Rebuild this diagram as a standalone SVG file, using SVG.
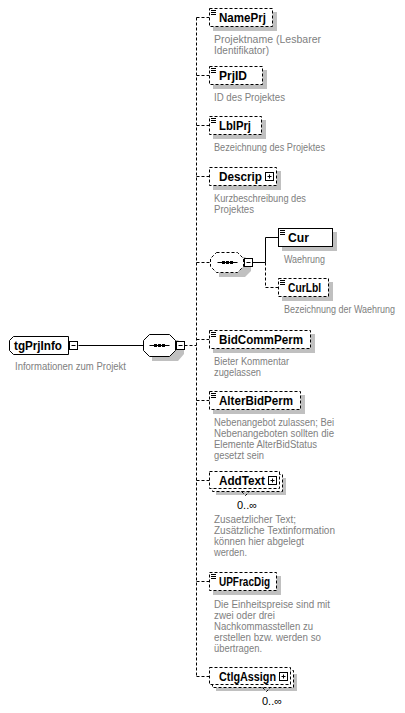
<svg xmlns="http://www.w3.org/2000/svg" width="405" height="713" viewBox="0 0 405 713">
<defs>
<style>
.bg{fill:#ffffff}
.box{fill:#ffffff;stroke:#000000;stroke-width:1}
.opt{fill:#ffffff;stroke:#000000;stroke-width:1;stroke-dasharray:3,2}
.sh{fill:#c0c0c0}
.ln{stroke:#000000;stroke-width:1;fill:none}
.dl{stroke:#000000;stroke-width:1;fill:none;stroke-dasharray:3,2}
.nm{font-family:"Liberation Sans",Arial,sans-serif;font-size:12px;font-weight:bold;fill:#000000}
.ds{font-family:"Liberation Sans",Arial,sans-serif;font-size:10px;fill:#808080}
.oc{font-family:"Liberation Sans",Arial,sans-serif;font-size:11px;fill:#000000}
</style>
</defs>
<rect class="bg" x="0" y="0" width="405" height="713"/>
<g id="connectors">
<line class="ln" x1="78.5" y1="345.5" x2="143.5" y2="345.5"/>
<line class="dl" x1="184.5" y1="345.5" x2="196.5" y2="345.5"/>
<line class="dl" x1="196.5" y1="17.5" x2="196.5" y2="676.5"/>
<line class="dl" x1="196.5" y1="17.5" x2="209.5" y2="17.5"/>
<line class="dl" x1="196.5" y1="75.5" x2="209.5" y2="75.5"/>
<line class="dl" x1="196.5" y1="125.5" x2="209.5" y2="125.5"/>
<line class="dl" x1="196.5" y1="176.5" x2="209.5" y2="176.5"/>
<line class="dl" x1="196.5" y1="262.5" x2="210.5" y2="262.5"/>
<line class="dl" x1="196.5" y1="339.5" x2="209.5" y2="339.5"/>
<line class="dl" x1="196.5" y1="400.5" x2="209.5" y2="400.5"/>
<line class="dl" x1="196.5" y1="480.5" x2="209.5" y2="480.5"/>
<line class="dl" x1="196.5" y1="581.5" x2="209.5" y2="581.5"/>
<line class="dl" x1="196.5" y1="676.5" x2="209.5" y2="676.5"/>
<line class="ln" x1="252.5" y1="262.5" x2="265.5" y2="262.5"/>
<path class="ln" d="M265.5,262.5 V237.5 H278.5"/>
<path class="dl" d="M265.5,262.5 V287.5 H278.5"/>
</g>
<g id="tgPrjInfo">
<path class="box" d="M13.5,336.5 H68.5 V354.5 H13.5 L9.5,350.5 V340.5 Z"/>
<text class="nm" x="14" y="350" textLength="48" lengthAdjust="spacingAndGlyphs">tgPrjInfo</text>
<rect class="box" x="69.5" y="341.5" width="8" height="8"/>
<line class="ln" x1="71.5" y1="345.5" x2="75.5" y2="345.5"/>
<text class="ds" x="15" y="370" textLength="111" lengthAdjust="spacingAndGlyphs">Informationen zum Projekt</text>
</g>
<g id="seq1">
<path class="sh" d="M152,340 H178 L184,346 V354 L178,361 H152 Z"/>
<path class="box" d="M149.5,334.5 H169.5 L175.5,340.5 V350.5 L169.5,356.5 H149.5 L143.5,350.5 V340.5 Z"/>
<line class="ln" x1="149.5" y1="345.5" x2="169.5" y2="345.5"/>
<rect x="154" y="344" width="3" height="3" fill="#000"/>
<rect x="158" y="344" width="3" height="3" fill="#000"/>
<rect x="162" y="344" width="3" height="3" fill="#000"/>
<rect class="box" x="176.5" y="341.5" width="8" height="8"/>
<line class="ln" x1="178.5" y1="345.5" x2="182.5" y2="345.5"/>
</g>
<g id="NamePrj">
<rect class="sh" x="213" y="12" width="64" height="19"/>
<rect class="opt" x="209.5" y="8.5" width="63" height="18"/>
<path class="ln" d="M211,10.5 h5 M211,12.5 h5 M211,14.5 h5"/>
<text class="nm" x="219" y="22" textLength="47" lengthAdjust="spacingAndGlyphs">NamePrj</text>
<text class="ds" x="214" y="43" textLength="107" lengthAdjust="spacingAndGlyphs">Projektname (Lesbarer</text>
<text class="ds" x="214" y="54" textLength="55" lengthAdjust="spacingAndGlyphs">Identifikator)</text>
</g>
<g id="PrjID">
<rect class="sh" x="213" y="70" width="54" height="19"/>
<rect class="opt" x="209.5" y="66.5" width="53" height="18"/>
<path class="ln" d="M211,68.5 h5 M211,70.5 h5 M211,72.5 h5"/>
<text class="nm" x="219" y="80" textLength="28" lengthAdjust="spacingAndGlyphs">PrjID</text>
<text class="ds" x="214" y="101" textLength="71" lengthAdjust="spacingAndGlyphs">ID des Projektes</text>
</g>
<g id="LblPrj">
<rect class="sh" x="213" y="120" width="53" height="19"/>
<rect class="opt" x="209.5" y="116.5" width="52" height="18"/>
<path class="ln" d="M211,118.5 h5 M211,120.5 h5 M211,122.5 h5"/>
<text class="nm" x="219" y="130" textLength="32" lengthAdjust="spacingAndGlyphs">LblPrj</text>
<text class="ds" x="214" y="151" textLength="111" lengthAdjust="spacingAndGlyphs">Bezeichnung des Projektes</text>
</g>
<g id="Descrip">
<rect class="sh" x="213" y="171" width="68" height="19"/>
<rect class="opt" x="209.5" y="167.5" width="67" height="18"/>
<text class="nm" x="219" y="181" textLength="43" lengthAdjust="spacingAndGlyphs">Descrip</text>
<rect class="box" x="265.5" y="172.5" width="8" height="8"/>
<path class="ln" d="M267.5,176.5 h4 M269.5,174.5 v4"/>
<text class="ds" x="214" y="202" textLength="92" lengthAdjust="spacingAndGlyphs">Kurzbeschreibung des</text>
<text class="ds" x="214" y="213" textLength="40" lengthAdjust="spacingAndGlyphs">Projektes</text>
</g>
<g id="seq2">
<path class="sh" d="M219,257 H245 L251,263 V271 L245,277 H219 Z"/>
<path class="opt" d="M216.5,252.5 H237.5 L243.5,258.5 V266.5 L237.5,272.5 H216.5 L210.5,266.5 V258.5 Z"/>
<line class="ln" x1="217.5" y1="262.5" x2="237.5" y2="262.5"/>
<rect x="222" y="261" width="3" height="3" fill="#000"/>
<rect x="226" y="261" width="3" height="3" fill="#000"/>
<rect x="230" y="261" width="3" height="3" fill="#000"/>
<rect class="box" x="244.5" y="258.5" width="8" height="8"/>
<line class="ln" x1="246.5" y1="262.5" x2="250.5" y2="262.5"/>
</g>
<g id="Cur">
<rect class="sh" x="282" y="232" width="55" height="19"/>
<rect class="box" x="278.5" y="228.5" width="54" height="18"/>
<path class="ln" d="M280,230.5 h5 M280,232.5 h5 M280,234.5 h5"/>
<text class="nm" x="288" y="242" textLength="21" lengthAdjust="spacingAndGlyphs">Cur</text>
<text class="ds" x="284" y="263" textLength="41" lengthAdjust="spacingAndGlyphs">Waehrung</text>
</g>
<g id="CurLbl">
<rect class="sh" x="282" y="282" width="51" height="19"/>
<rect class="opt" x="278.5" y="278.5" width="50" height="18"/>
<path class="ln" d="M280,280.5 h5 M280,282.5 h5 M280,284.5 h5"/>
<text class="nm" x="288" y="292" textLength="33" lengthAdjust="spacingAndGlyphs">CurLbl</text>
<text class="ds" x="284" y="313" textLength="111" lengthAdjust="spacingAndGlyphs">Bezeichnung der Waehrung</text>
</g>
<g id="BidCommPerm">
<rect class="sh" x="213" y="334" width="102" height="19"/>
<rect class="opt" x="209.5" y="330.5" width="101" height="18"/>
<path class="ln" d="M211,332.5 h5 M211,334.5 h5 M211,336.5 h5"/>
<text class="nm" x="219" y="344" textLength="84" lengthAdjust="spacingAndGlyphs">BidCommPerm</text>
<text class="ds" x="214" y="365" textLength="75" lengthAdjust="spacingAndGlyphs">Bieter Kommentar</text>
<text class="ds" x="214" y="376" textLength="47" lengthAdjust="spacingAndGlyphs">zugelassen</text>
</g>
<g id="AlterBidPerm">
<rect class="sh" x="213" y="395" width="92" height="19"/>
<rect class="opt" x="209.5" y="391.5" width="91" height="18"/>
<path class="ln" d="M211,393.5 h5 M211,395.5 h5 M211,397.5 h5"/>
<text class="nm" x="219" y="405" textLength="74" lengthAdjust="spacingAndGlyphs">AlterBidPerm</text>
<text class="ds" x="214" y="426" textLength="120" lengthAdjust="spacingAndGlyphs">Nebenangebot zulassen; Bei</text>
<text class="ds" x="214" y="437" textLength="120" lengthAdjust="spacingAndGlyphs">Nebenangeboten sollten die</text>
<text class="ds" x="214" y="448" textLength="103" lengthAdjust="spacingAndGlyphs">Elemente AlterBidStatus</text>
<text class="ds" x="214" y="459" textLength="50" lengthAdjust="spacingAndGlyphs">gesetzt sein</text>
</g>
<g id="AddText">
<rect class="sh" x="216" y="478" width="70" height="17"/>
<rect class="opt" x="212.5" y="474.5" width="70" height="17"/>
<rect class="opt" x="209.5" y="471.5" width="70" height="17"/>
<text class="nm" x="219" y="485" textLength="46" lengthAdjust="spacingAndGlyphs">AddText</text>
<rect class="box" x="268.5" y="476.5" width="8" height="8"/>
<path class="ln" d="M270.5,480.5 h4 M272.5,478.5 v4"/>
<path class="dl" d="M241.5,491.5 l4,4 l4,-4"/>
<text class="oc" x="237" y="509">0..∞</text>
<text class="ds" x="214" y="523" textLength="82" lengthAdjust="spacingAndGlyphs">Zusaetzlicher Text;</text>
<text class="ds" x="214" y="534" textLength="121" lengthAdjust="spacingAndGlyphs">Zusätzliche Textinformation</text>
<text class="ds" x="214" y="545" textLength="90" lengthAdjust="spacingAndGlyphs">können hier abgelegt</text>
<text class="ds" x="214" y="556" textLength="33" lengthAdjust="spacingAndGlyphs">werden.</text>
</g>
<g id="UPFracDig">
<rect class="sh" x="213" y="576" width="68" height="19"/>
<rect class="opt" x="209.5" y="572.5" width="67" height="18"/>
<path class="ln" d="M211,574.5 h5 M211,576.5 h5 M211,578.5 h5"/>
<text class="nm" x="219" y="586" textLength="51" lengthAdjust="spacingAndGlyphs">UPFracDig</text>
<text class="ds" x="214" y="608" textLength="116" lengthAdjust="spacingAndGlyphs">Die Einheitspreise sind mit</text>
<text class="ds" x="214" y="619" textLength="61" lengthAdjust="spacingAndGlyphs">zwei oder drei</text>
<text class="ds" x="214" y="630" textLength="99" lengthAdjust="spacingAndGlyphs">Nachkommasstellen zu</text>
<text class="ds" x="214" y="641" textLength="107" lengthAdjust="spacingAndGlyphs">erstellen bzw. werden so</text>
<text class="ds" x="214" y="652" textLength="48" lengthAdjust="spacingAndGlyphs">übertragen.</text>
</g>
<g id="CtlgAssign">
<rect class="sh" x="216" y="674" width="81" height="17"/>
<rect class="opt" x="212.5" y="670.5" width="81" height="17"/>
<rect class="opt" x="209.5" y="667.5" width="81" height="17"/>
<text class="nm" x="219" y="681" textLength="57" lengthAdjust="spacingAndGlyphs">CtlgAssign</text>
<rect class="box" x="279.5" y="672.5" width="8" height="8"/>
<path class="ln" d="M281.5,676.5 h4 M283.5,674.5 v4"/>
<path class="dl" d="M262.5,687.5 l4,4 l4,-4"/>
<text class="oc" x="262" y="705">0..∞</text>
</g>
</svg>
